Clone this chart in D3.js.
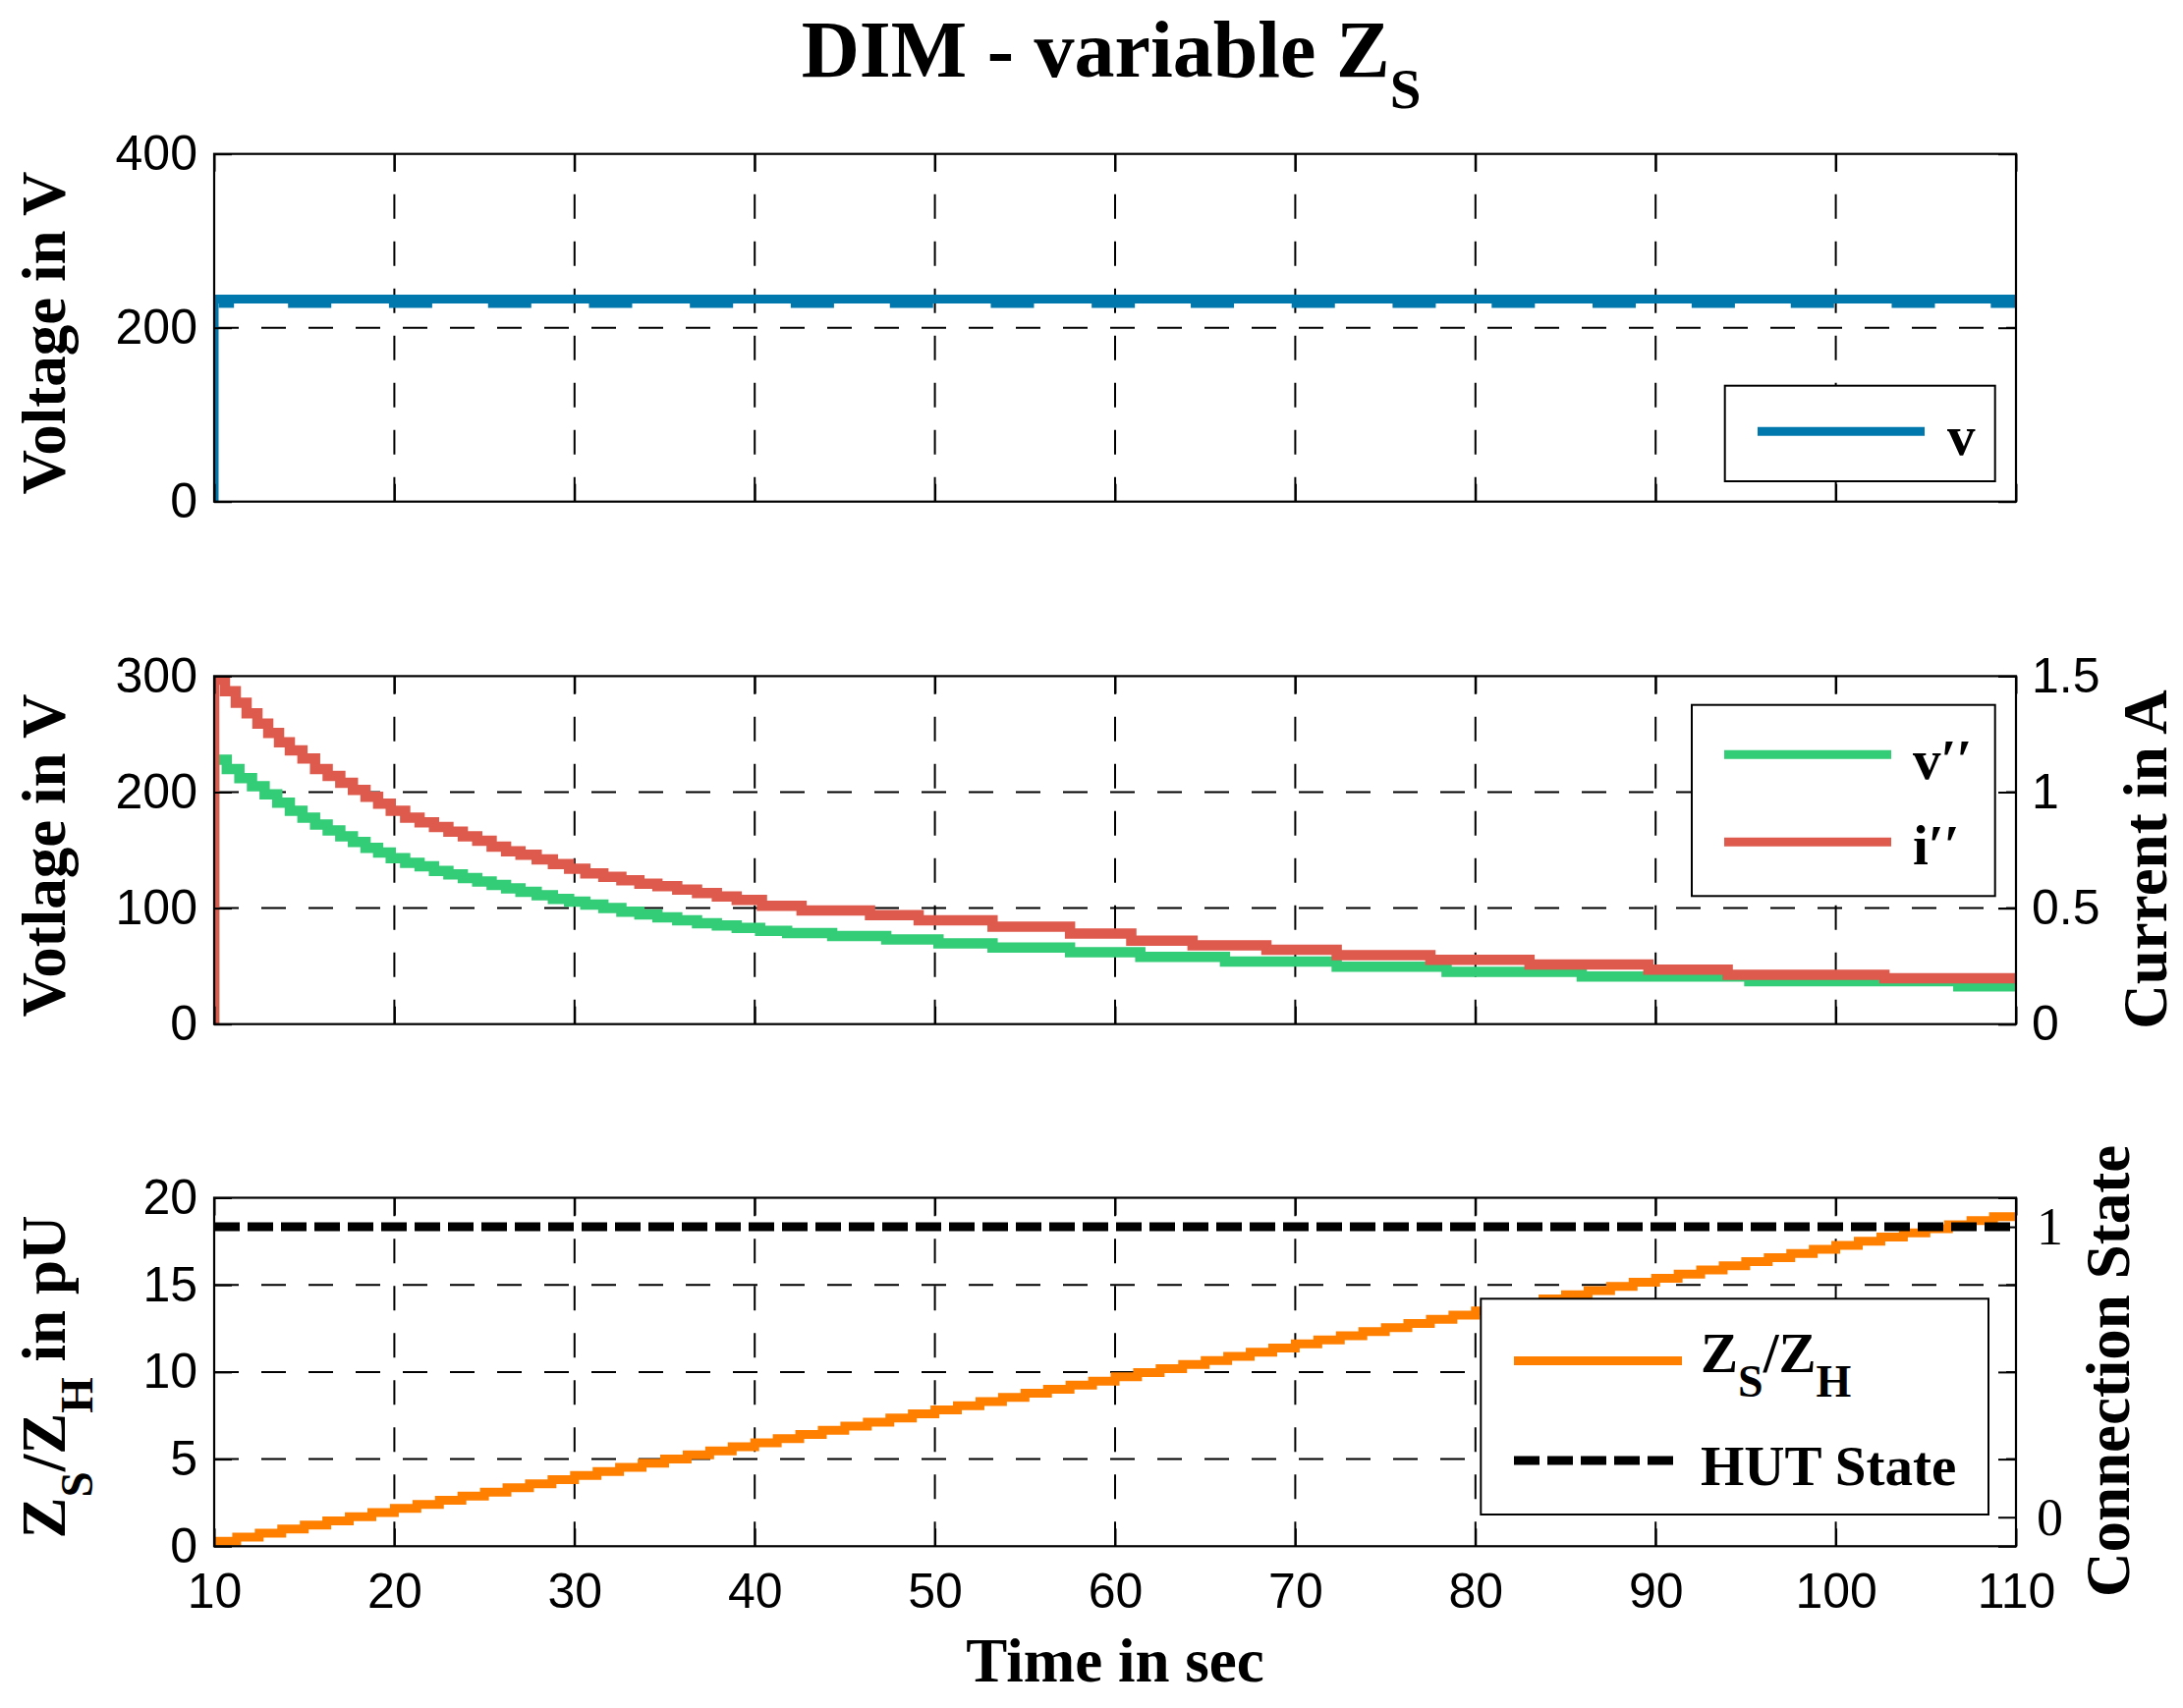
<!DOCTYPE html>
<html><head><meta charset="utf-8">
<script src="https://cdn.jsdelivr.net/npm/d3@7"></script>
<style>body{margin:0;background:#fff}svg{display:block}</style>
</head><body>
<svg id="chart" width="2222" height="1739"></svg>
<script>
// ---------------- DATA ----------------
const timeTicks = [10, 20, 30, 40, 50, 60, 70, 80, 90, 100, 110];

// Panel 1: grid voltage v
const v1Ticks = [0, 200, 400];
const vTimes  = [10, 10, 110];
const vValues = [0, 233, 233];
const vDipStart = [10.25, 14.1, 19.7, 25.2, 30.8, 36.4, 42.0, 47.5, 53.1, 58.7, 64.2, 69.8, 75.4, 80.9, 86.5, 92.0, 97.5, 103.1, 108.6];
const vDipEnd   = [11.1, 16.5, 22.1, 27.6, 33.2, 38.8, 44.4, 49.9, 55.5, 61.1, 66.6, 72.2, 77.8, 83.3, 88.9, 94.4, 99.9, 105.5, 111.0];
const vDipValue = 228;

// Panel 2: v'' (V, left axis) and i'' (A, right axis)
const v2Ticks = [0, 100, 200, 300];
const iTicks  = [0, 0.5, 1, 1.5];
const vppTimes  = [10, 10, 10.7, 11.4, 12.1, 12.8, 13.5, 14.2, 14.9, 15.6, 16.3, 17.0, 17.7, 18.4, 19.1, 19.8,
  20.6, 21.4, 22.2, 23.0, 23.8, 24.6, 25.4, 26.2, 27.0, 27.9, 28.8, 29.7,
  30.6, 31.6, 32.6, 33.6, 34.6, 35.7, 36.8, 37.9, 39.0,
  40.3, 41.8, 44.3, 47.3, 50.2, 53.2, 57.5, 61.4, 66.1, 72.3, 78.4, 85.9, 95.2, 106.8, 110];
const vppValues = [0, 228, 220, 212, 205, 198, 191, 184, 178, 172, 167, 162, 157, 152, 148, 143,
  139, 136, 132, 129, 126, 123, 120, 117, 114, 111, 108, 105.5,
  103, 100, 97, 94.5, 92, 89.5, 87, 85, 83,
  80.5, 78.5, 76, 73, 69.5, 66, 62, 58, 54, 49.5, 45, 41, 37, 32.5, 32.5];
const ippTimes  = [10, 10, 10.6, 11.2, 11.8, 12.4, 13.0, 13.6, 14.2, 14.9, 15.6, 16.3, 17.0, 17.7, 18.4, 19.1, 19.8,
  20.6, 21.4, 22.2, 23.0, 23.8, 24.6, 25.4, 26.2, 27.0, 27.9, 28.8, 29.7,
  30.6, 31.6, 32.6, 33.6, 34.6, 35.7, 36.8, 37.9, 39.0,
  40.4, 42.6, 46.4, 49.1, 53.2, 57.5, 60.9, 64.3, 68.4, 72.3, 77.5, 83.0, 89.6, 94.0, 102.7, 110];
const ippValues = [0, 1.485, 1.435, 1.385, 1.34, 1.295, 1.255, 1.215, 1.18, 1.145, 1.10, 1.07, 1.04, 1.01, 0.98, 0.95, 0.92,
  0.89, 0.87, 0.85, 0.83, 0.81, 0.79, 0.765, 0.745, 0.73, 0.71, 0.69, 0.67,
  0.65, 0.635, 0.62, 0.605, 0.595, 0.58, 0.565, 0.55, 0.535,
  0.51, 0.49, 0.47, 0.4475, 0.42, 0.39, 0.36, 0.34, 0.32, 0.2975, 0.2775, 0.2575, 0.235, 0.2125, 0.1975, 0.1975];

// Panel 3: Zs/Zh (pU, left axis) and HUT state (right axis)
const zTicks = [0, 5, 10, 15, 20];
const stateTicks = [0, 1];
const zsTimes = [10, 11.25, 12.5, 13.75, 15, 16.25, 17.5, 18.75, 20, 21.25, 22.5, 23.75, 25, 26.25, 27.5, 28.75,
  30, 31.25, 32.5, 33.75, 35, 36.25, 37.5, 38.75, 40, 41.25, 42.5, 43.75, 45, 46.25, 47.5, 48.75,
  50, 51.25, 52.5, 53.75, 55, 56.25, 57.5, 58.75, 60, 61.25, 62.5, 63.75, 65, 66.25, 67.5, 68.75,
  70, 71.25, 72.5, 73.75, 75, 76.25, 77.5, 78.75, 80, 81.25, 82.5, 83.75, 85, 86.25, 87.5, 88.75,
  90, 91.25, 92.5, 93.75, 95, 96.25, 97.5, 98.75, 100, 101.25, 102.5, 103.75, 105, 106.25, 107.5, 108.75, 110];
const zsValues = [0.28, 0.52, 0.75, 0.99, 1.22, 1.46, 1.70, 1.93, 2.17, 2.40, 2.64, 2.88, 3.11, 3.35, 3.58, 3.82,
  4.06, 4.29, 4.53, 4.76, 5.00, 5.24, 5.47, 5.71, 5.94, 6.18, 6.42, 6.65, 6.89, 7.12, 7.36, 7.60,
  7.83, 8.07, 8.30, 8.54, 8.78, 9.01, 9.25, 9.48, 9.72, 9.96, 10.19, 10.43, 10.66, 10.90, 11.14, 11.37,
  11.61, 11.84, 12.08, 12.32, 12.55, 12.79, 13.02, 13.26, 13.50, 13.73, 13.97, 14.20, 14.44, 14.68,
  14.91, 15.15, 15.38, 15.62, 15.86, 16.09, 16.33, 16.56, 16.80, 17.04, 17.27, 17.51, 17.74, 17.98,
  18.22, 18.45, 18.69, 18.92, 18.92];
const hutTimes  = [10, 110];
const hutValues = [1, 1];

// ---------------- STYLE / LAYOUT ----------------
const C_BLUE = "#0078AD", C_GREEN = "#33CC77", C_RED = "#DE5A4C", C_ORANGE = "#FF8000";
const SERIF = "'Liberation Serif', 'Times New Roman', serif";
const SANS = "'Liberation Sans', Arial, sans-serif";
const X0 = 218, X1 = 2052;
const LW = 9;

const svg = d3.select("#chart");
const defs = svg.append("defs");
const x = d3.scaleLinear().domain([10, 110]).range([X0, X1]);

function zip(ts, vs) { return ts.map((t, i) => [t, vs[i]]); }

function makePanel(idx, top, bottom) {
  defs.append("clipPath").attr("id", "clip" + idx)
    .append("rect").attr("x", X0).attr("y", top).attr("width", X1 - X0).attr("height", bottom - top);
  const g = svg.append("g");
  return { g, top, bottom, clip: "url(#clip" + idx + ")" };
}

function drawGrid(p, y, yTicks) {
  const gg = p.g.append("g");
  timeTicks.filter(t => t > 10 && t < 110).forEach(t => {
    gg.append("path").attr("d", `M${x(t)},${p.bottom}V${p.top}`)
      .attr("stroke", "#000").attr("stroke-width", 2).attr("stroke-dasharray", "25,23").attr("fill", "none");
  });
  yTicks.slice(1, -1).forEach(v => {
    gg.append("path").attr("d", `M${X0},${y(v)}H${X1}`)
      .attr("stroke", "#000").attr("stroke-width", 2).attr("stroke-dasharray", "25,23").attr("fill", "none");
  });
}

function styleAxis(g, font, size) {
  g.select(".domain").remove();
  g.selectAll(".tick line").attr("stroke", "#000").attr("stroke-width", 2);
  g.selectAll(".tick text").attr("font-family", font).attr("font-size", size).attr("fill", "#000");
}

function drawFrame(p, y, yTicks, showXLabels) {
  const g = p.g.append("g");
  const gb = g.append("g").attr("transform", `translate(0,${p.bottom})`)
    .call(d3.axisBottom(x).tickValues(timeTicks).tickSizeInner(-18).tickSizeOuter(0).tickPadding(27)
      .tickFormat(showXLabels ? d3.format("d") : () => ""));
  styleAxis(gb, SANS, 50);
  const gt = g.append("g").attr("transform", `translate(0,${p.top})`)
    .call(d3.axisTop(x).tickValues(timeTicks).tickSizeInner(-18).tickSizeOuter(0).tickFormat(() => ""));
  styleAxis(gt, SANS, 50);
  const gl = g.append("g").attr("transform", `translate(${X0},0)`)
    .call(d3.axisLeft(y).tickValues(yTicks).tickSizeInner(-18).tickSizeOuter(0).tickPadding(17).tickFormat(d3.format("d")));
  styleAxis(gl, SANS, 50);
  const gr = g.append("g").attr("transform", `translate(${X1},0)`)
    .call(d3.axisRight(y).tickValues(yTicks).tickSizeInner(-18).tickSizeOuter(0).tickFormat(() => ""));
  styleAxis(gr, SANS, 50);
  g.append("rect").attr("x", X0).attr("y", p.top).attr("width", X1 - X0).attr("height", p.bottom - p.top)
    .attr("fill", "none").attr("stroke", "#000").attr("stroke-width", 2.2);
  return g;
}

function series(p, data, xs, ys, color, width, extra) {
  const line = d3.line().x(d => xs(d[0])).y(d => ys(d[1])).curve(d3.curveStepAfter);
  const path = p.g.append("path").datum(data).attr("d", line).attr("fill", "none")
    .attr("stroke", color).attr("stroke-width", width).attr("clip-path", p.clip);
  if (extra) extra(path);
  return path;
}

function legendBox(x0, y0, x1, y1) {
  return svg.append("rect").attr("x", x0).attr("y", y0).attr("width", x1 - x0).attr("height", y1 - y0)
    .attr("fill", "#fff").attr("stroke", "#000").attr("stroke-width", 2);
}

// ---------------- TITLE ----------------
const title = svg.append("text").attr("x", 1131).attr("y", 77.5).attr("text-anchor", "middle")
  .attr("font-family", SERIF).attr("font-weight", "bold").attr("font-size", 82);
title.append("tspan").text("DIM - variable Z");
title.append("tspan").attr("font-size", 57).attr("dy", 32).text("S");

function rotLabel(cx, cy, builder) {
  const t = svg.append("text").attr("transform", `translate(${cx},${cy}) rotate(-90)`)
    .attr("text-anchor", "middle").attr("font-family", SERIF).attr("font-weight", "bold").attr("font-size", 63);
  builder(t);
  return t;
}

// ---------------- PANEL 1 ----------------
const p1 = makePanel(1, 156.7, 510.7);
const y1 = d3.scaleLinear().domain([0, 400]).range([p1.bottom, p1.top]);
drawGrid(p1, y1, v1Ticks);
vDipStart.forEach((s, i) => {
  series(p1, [[s, vDipValue], [vDipEnd[i], vDipValue]], x, y1, C_BLUE, LW);
});
series(p1, zip(vTimes, vValues), x, y1, C_BLUE, LW);
drawFrame(p1, y1, v1Ticks, false);
rotLabel(66, 339, t => t.text("Voltage in V"));
legendBox(1755.7, 392.7, 2030.7, 490);
svg.append("line").attr("x1", 1789).attr("x2", 1959).attr("y1", 439.3).attr("y2", 439.3)
  .attr("stroke", C_BLUE).attr("stroke-width", LW);
svg.append("text").attr("x", 1982).attr("y", 463.3).attr("font-family", SERIF).attr("font-weight", "bold")
  .attr("font-size", 57).text("v");

// ---------------- PANEL 2 ----------------
const p2 = makePanel(2, 688.4, 1042.7);
const y2 = d3.scaleLinear().domain([0, 300]).range([p2.bottom, p2.top]);
const y2r = d3.scaleLinear().domain([0, 1.5]).range([p2.bottom, p2.top]);
drawGrid(p2, y2, v2Ticks);
series(p2, zip(vppTimes, vppValues), x, y2, C_GREEN, 10.5);
series(p2, zip(ippTimes, ippValues), x, y2r, C_RED, 10.5);
drawFrame(p2, y2, v2Ticks, false);
const gr2 = p2.g.append("g").attr("transform", `translate(${X1},0)`)
  .call(d3.axisRight(y2r).tickValues(iTicks).tickSizeInner(-18).tickSizeOuter(0).tickPadding(16).tickFormat(d => String(d)));
styleAxis(gr2, SANS, 50);
rotLabel(66, 871, t => t.text("Votlage in V"));
rotLabel(2205, 875, t => t.text("Current in A"));
legendBox(1722, 717.7, 2030.7, 912.3);
svg.append("line").attr("x1", 1755).attr("x2", 1925).attr("y1", 768.3).attr("y2", 768.3)
  .attr("stroke", C_GREEN).attr("stroke-width", LW);
svg.append("line").attr("x1", 1755).attr("x2", 1925).attr("y1", 857.3).attr("y2", 857.3)
  .attr("stroke", C_RED).attr("stroke-width", LW);
svg.append("text").attr("x", 1947).attr("y", 793.3).attr("font-family", SERIF).attr("font-weight", "bold")
  .attr("font-size", 57).text("v\u2032\u2032");
svg.append("text").attr("x", 1947).attr("y", 880).attr("font-family", SERIF).attr("font-weight", "bold")
  .attr("font-size", 57).text("i\u2032\u2032");

// ---------------- PANEL 3 ----------------
const p3 = makePanel(3, 1219.5, 1574.3);
const y3 = d3.scaleLinear().domain([0, 20]).range([p3.bottom, p3.top]);
const y3r = d3.scaleLinear().domain([-0.1, 1.1]).range([p3.bottom, p3.top]);
drawGrid(p3, y3, zTicks);
series(p3, zip(zsTimes, zsValues), x, y3, C_ORANGE, LW);
series(p3, zip(hutTimes, hutValues), x, y3r, "#000", LW, pth => pth.attr("stroke-dasharray", "26,8"));
drawFrame(p3, y3, zTicks, true);
const gr3 = p3.g.append("g").attr("transform", `translate(${X1},0)`)
  .call(d3.axisRight(y3r).tickValues(stateTicks).tickSizeInner(-18).tickSizeOuter(0).tickPadding(21).tickFormat(d3.format("d")));
styleAxis(gr3, SERIF, 54);
rotLabel(66, 1402, t => {
  t.append("tspan").text("Z");
  t.append("tspan").attr("font-size", 47).attr("dy", 28).text("S");
  t.append("tspan").attr("dy", -28).text("/Z");
  t.append("tspan").attr("font-size", 47).attr("dy", 28).text("H");
  t.append("tspan").attr("dy", -28).text(" in pU");
});
rotLabel(2166.6, 1396, t => t.text("Connection State"));
legendBox(1507.3, 1322.3, 2024, 1542);
svg.append("line").attr("x1", 1541).attr("x2", 1712).attr("y1", 1385.4).attr("y2", 1385.4)
  .attr("stroke", C_ORANGE).attr("stroke-width", LW);
svg.append("line").attr("x1", 1541).attr("x2", 1703).attr("y1", 1487).attr("y2", 1487)
  .attr("stroke", "#000").attr("stroke-width", LW).attr("stroke-dasharray", "26,8");
const lz = svg.append("text").attr("x", 1731).attr("y", 1396.8).attr("font-family", SERIF)
  .attr("font-weight", "bold").attr("font-size", 57);
lz.append("tspan").text("Z");
lz.append("tspan").attr("font-size", 46).attr("dy", 25).text("S");
lz.append("tspan").attr("dy", -25).text("/Z");
lz.append("tspan").attr("font-size", 46).attr("dy", 25).text("H");
svg.append("text").attr("x", 1731).attr("y", 1511.5).attr("font-family", SERIF).attr("font-weight", "bold")
  .attr("font-size", 57).text("HUT State");

// x label
svg.append("text").attr("x", 1135).attr("y", 1712).attr("text-anchor", "middle").attr("font-family", SERIF)
  .attr("font-weight", "bold").attr("font-size", 63).text("Time in sec");
</script>
</body></html>
